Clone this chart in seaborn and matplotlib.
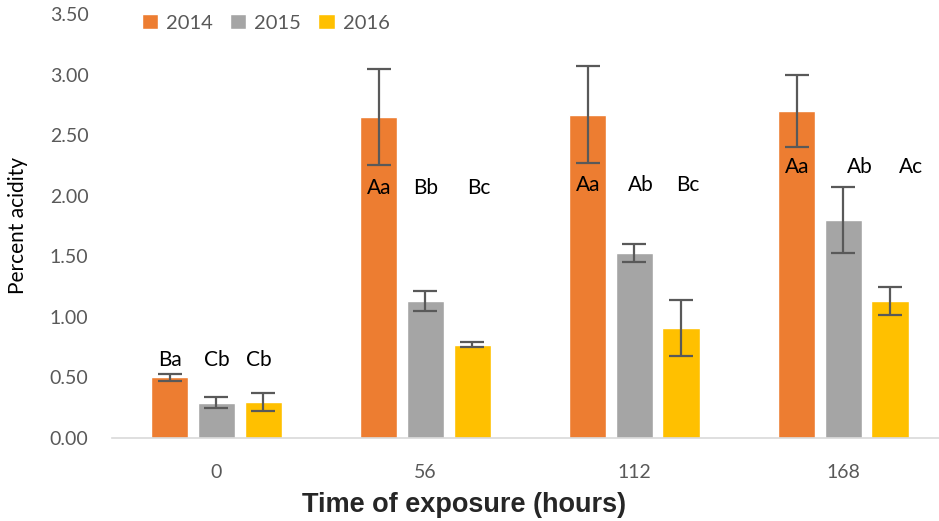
import pandas as pd
import matplotlib.pyplot as plt
import seaborn as sns

# Datos
hours = ["0", "56", "112", "168"]
years = ["2014", "2015", "2016"]
acid_2014 = [0.50, 2.65, 2.67, 2.70]
acid_2015 = [0.29, 1.13, 1.53, 1.80]
acid_2016 = [0.30, 0.77, 0.91, 1.13]
err_2014 = [0.03, 0.40, 0.40, 0.30]
err_2015 = [0.045, 0.08, 0.075, 0.27]
err_2016 = [0.075, 0.02, 0.23, 0.115]
letters_2014 = ["Ba", "Aa", "Aa", "Aa"]
letters_2015 = ["Cb", "Bb", "Ab", "Ab"]
letters_2016 = ["Cb", "Bc", "Bc", "Ac"]
letter_y = [0.64, 2.06, 2.09, 2.24]

colors = {"2014": "#ED7D31", "2015": "#A5A5A5", "2016": "#FFC000"}
values = {"2014": acid_2014, "2015": acid_2015, "2016": acid_2016}
errors = {"2014": err_2014, "2015": err_2015, "2016": err_2016}
letters = {"2014": letters_2014, "2015": letters_2015, "2016": letters_2016}
# pequeño desplazamiento horizontal de las letras (unidades de categoría)
label_dx = {"2014": [0, 0, 0, 0],
            "2015": [0, 0, 0.03, 0.08],
            "2016": [-0.02, 0.03, 0.03, 0.1]}

rows = []
for y in years:
    for h, v in zip(hours, values[y]):
        rows.append({"hours": h, "year": y, "acidity": v})
df = pd.DataFrame(rows)

sns.set_style("white")
plt.rcParams["font.family"] = ["Lato", "DejaVu Sans"]

fig = plt.figure(figsize=(9.39, 5.21), dpi=100)
ax = fig.add_axes([112 / 939, 1 - 438 / 521, (939 - 112) / 939, (438 - 14) / 521])

sns.barplot(data=df, x="hours", y="acidity", hue="year", order=hours,
            hue_order=years, palette=colors, width=0.67, gap=0.2,
            errorbar=None, saturation=1, ax=ax)

for y, cont in zip(years, ax.containers):
    xs = [p.get_x() + p.get_width() / 2 for p in cont.patches]
    ax.errorbar(xs, values[y], yerr=errors[y], fmt="none", ecolor="#595959",
                elinewidth=1.6, capsize=8.5, capthick=1.6, zorder=3)
    for x, ly, lab, dx in zip(xs, letter_y, letters[y], label_dx[y]):
        ax.text(x + dx, ly, lab, ha="center", va="center", fontsize=15,
                color="black", zorder=4)

ax.set_xlim(-0.5, 3.457)
ax.set_ylim(0, 3.5)
ax.set_yticks([0, 0.5, 1.0, 1.5, 2.0, 2.5, 3.0, 3.5])
ax.set_yticklabels([f"{t:.2f}" for t in ax.get_yticks()])
ax.tick_params(axis="both", length=0, labelsize=14, labelcolor="#595959")
ax.tick_params(axis="y", pad=17)
ax.tick_params(axis="x", pad=19)

for s in ["top", "right", "left"]:
    ax.spines[s].set_visible(False)
ax.spines["bottom"].set_color("#D9D9D9")
ax.spines["bottom"].set_linewidth(1.2)

ax.set_xlabel("Time of exposure (hours)", fontsize=19.5, fontweight="bold",
              family="Liberation Sans")
ax.xaxis.set_label_coords((464 - 112) / 827, (438 - 505) / 424)
ax.xaxis.label.set_va("center")
ax.set_ylabel("Percent acidity", fontsize=15, color="black")
ax.yaxis.set_label_coords((18 - 112) / 827, 0.5)
ax.yaxis.label.set_va("center")

leg = ax.legend(loc="upper left", bbox_to_anchor=(124 / 939, 1.008),
                bbox_transform=fig.transFigure, ncol=3, frameon=False,
                fontsize=14.5, handlelength=0.8, handleheight=0.8,
                handletextpad=0.4, columnspacing=0.85)
for t in leg.get_texts():
    t.set_color("#595959")

plt.savefig("out.png", dpi=100)
plt.close()
